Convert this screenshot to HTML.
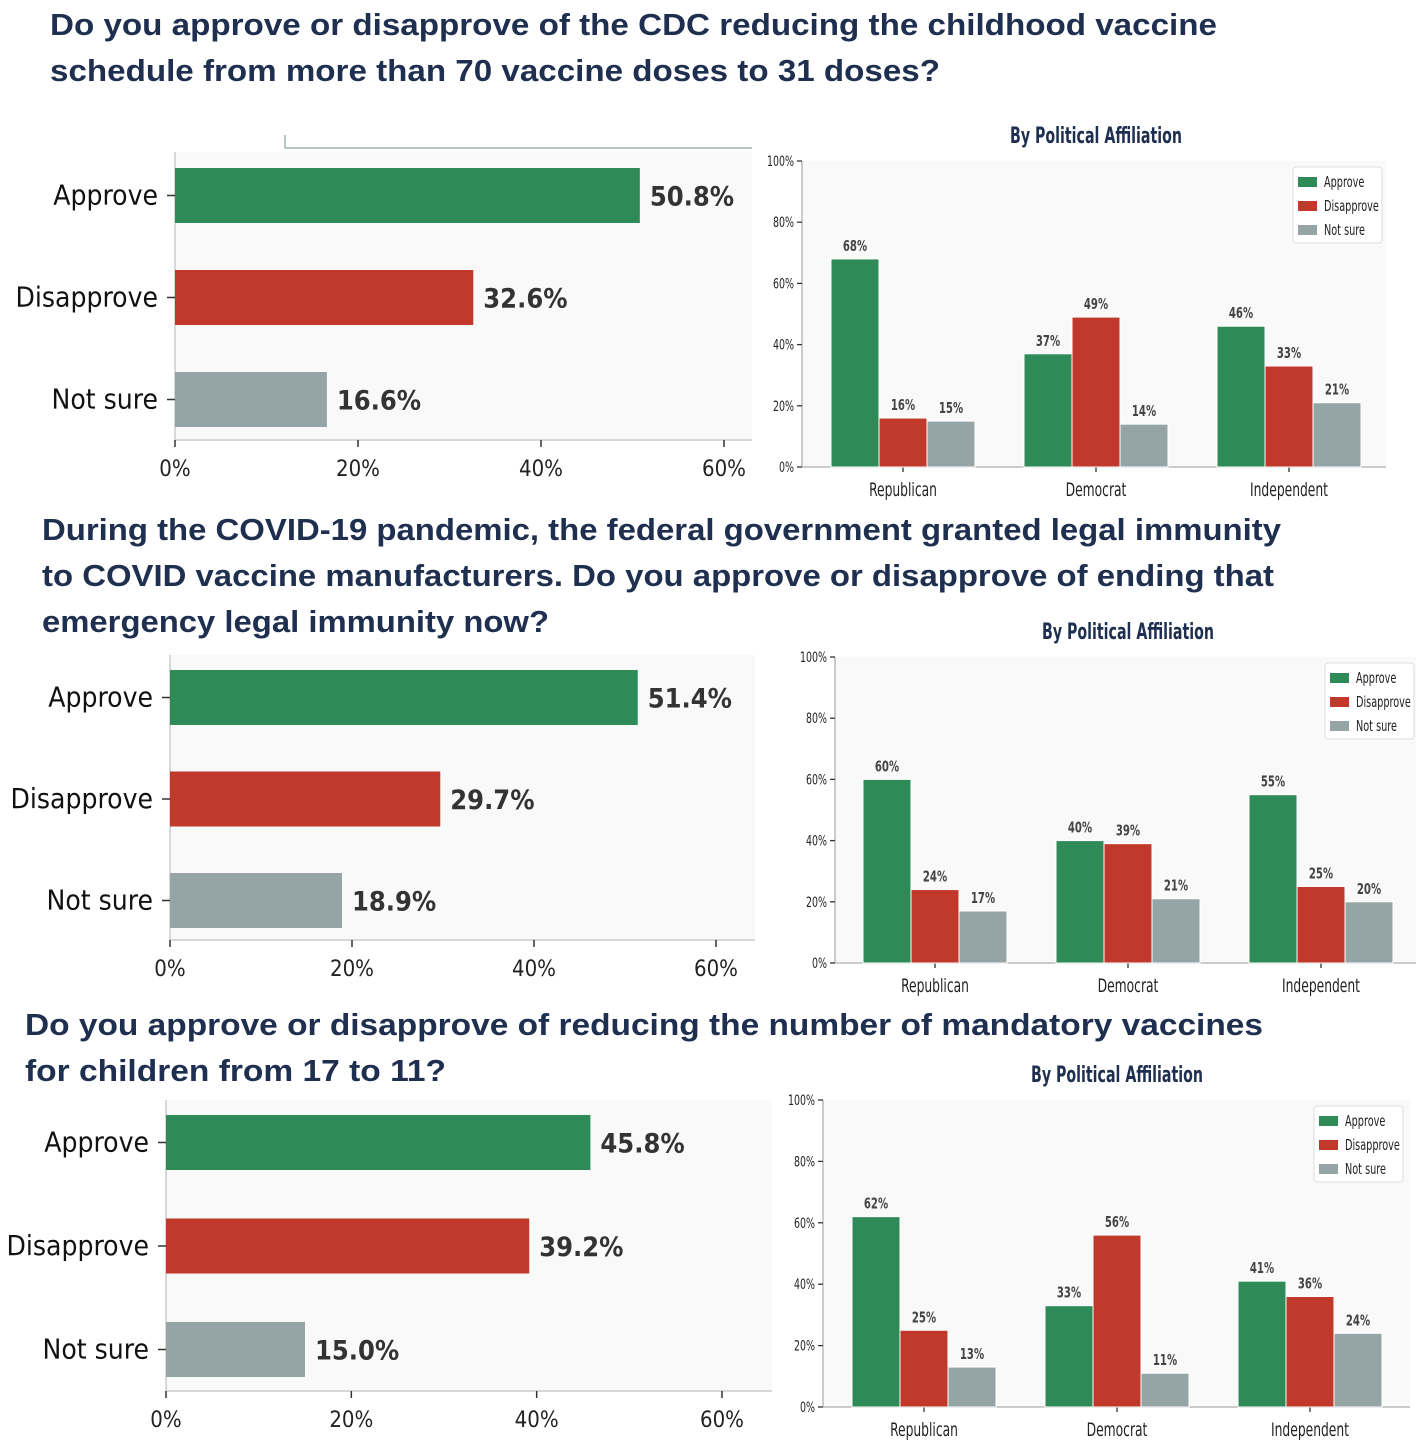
<!DOCTYPE html>
<html><head><meta charset="utf-8">
<style>
html,body{margin:0;padding:0;background:#fff;}
svg{display:block;}
.t{font-family:"Liberation Sans",sans-serif;font-weight:bold;font-size:31px;fill:#1e2f4f;}
.c{font-family:"DejaVu Sans Condensed","DejaVu Sans",sans-serif;}
</style></head>
<body>
<svg id="page" width="1416" height="1446" viewBox="0 0 1416 1446">
<text class="t" x="50" y="35" textLength="1167" lengthAdjust="spacingAndGlyphs">Do you approve or disapprove of the CDC reducing the childhood vaccine</text>
<text class="t" x="50" y="81" textLength="890" lengthAdjust="spacingAndGlyphs">schedule from more than 70 vaccine doses to 31 doses?</text>
<text class="t" x="42" y="540" textLength="1239" lengthAdjust="spacingAndGlyphs">During the COVID-19 pandemic, the federal government granted legal immunity</text>
<text class="t" x="42" y="586" textLength="1232" lengthAdjust="spacingAndGlyphs">to COVID vaccine manufacturers. Do you approve or disapprove of ending that</text>
<text class="t" x="42" y="632" textLength="507" lengthAdjust="spacingAndGlyphs">emergency legal immunity now?</text>
<text class="t" x="25" y="1035" textLength="1238" lengthAdjust="spacingAndGlyphs">Do you approve or disapprove of reducing the number of mandatory vaccines</text>
<text class="t" x="25" y="1081" textLength="421" lengthAdjust="spacingAndGlyphs">for children from 17 to 11?</text>
<path d="M285 135 V148 H752" fill="none" stroke="#9fb5ad" stroke-width="1.5"/>
</svg>
<script>
const categories = ["Approve", "Disapprove", "Not sure"];
const parties = ["Republican", "Democrat", "Independent"];
const xTicks = [0, 20, 40, 60];
const yTicks = [0, 20, 40, 60, 80, 100];
const q1Overall = [50.8, 32.6, 16.6];
const q1Approve = [68, 37, 46];
const q1Disapprove = [16, 49, 33];
const q1NotSure = [15, 14, 21];
const q2Overall = [51.4, 29.7, 18.9];
const q2Approve = [60, 40, 55];
const q2Disapprove = [24, 39, 25];
const q2NotSure = [17, 21, 20];
const q3Overall = [45.8, 39.2, 15.0];
const q3Approve = [62, 33, 41];
const q3Disapprove = [25, 56, 36];
const q3NotSure = [13, 11, 24];

const colors = ["#2e8b57", "#c0392b", "#95a5a6"];
const NS = "http://www.w3.org/2000/svg";
const svg = document.getElementById("page");
function mk(tag, attrs, parent, txt) {
  const e = document.createElementNS(NS, tag);
  for (const k in attrs) e.setAttribute(k, attrs[k]);
  if (txt !== undefined) e.textContent = txt;
  (parent || svg).appendChild(e);
  return e;
}
function ct(x, y, sx, attrs, parent, txt) {
  const a = Object.assign({x: 0, y: 0, transform: "translate(" + x + "," + y + ") scale(" + sx + ",1)", class: "c"}, attrs);
  return mk("text", a, parent, txt);
}

function hChart(id, vals, g) {
  const grp = mk("g", {});
  
  
  const x = v => g.x0 + (g.x60 - g.x0) * v / 60;
  const bg = mk("rect", {x: g.x0, y: g.top, width: g.right - g.x0, height: g.axisY - g.top, fill: "#f9f9f9"}, grp);
  
  
  const ax = mk("line", {x1: g.x0, y1: g.top, x2: g.x0, y2: g.axisY, stroke: "#ccc", "stroke-width": 1.5}, grp);
  
  
  const bx = mk("line", {x1: g.x0, y1: g.axisY, x2: g.right, y2: g.axisY, stroke: "#ccc", "stroke-width": 1.5}, grp);
  
  
  xTicks.forEach(t => {
    const tl = mk("line", {x1: x(t), y1: g.axisY, x2: x(t), y2: g.axisY + 7, stroke: "#333", "stroke-width": 1.5}, grp);
    
    
    const tx = mk("text", {x: x(t), y: g.axisY + 36, "text-anchor": "middle", "font-size": 22, fill: "#222", class: "c"}, grp, t + "%");
    
    
  });
  vals.forEach((v, i) => {
    const y = g.bar0 + i * g.step;
    const r = mk("rect", {x: g.x0, y: y, width: x(v) - g.x0, height: g.bh, fill: colors[i]}, grp);
    
    
    const tl = mk("line", {x1: g.x0 - 8, y1: y + g.bh / 2, x2: g.x0, y2: y + g.bh / 2, stroke: "#333", "stroke-width": 1.5}, grp);
    
    
    const lab = mk("text", {x: g.x0 - 17, y: y + g.bh / 2 + 9, "text-anchor": "end", "font-size": 28, fill: "#111", class: "c"}, grp, categories[i]);
    
    
    const val = mk("text", {x: x(v) + 10, y: y + g.bh / 2 + 10, "font-size": 27, "font-weight": "bold", fill: "#333", class: "c"}, grp, v.toFixed(1) + "%");
    
    
  });
}

function vChart(id, series, g) {
  const grp = mk("g", {});
  
  
  const y = v => g.y0 - (g.y0 - g.y100) * v / 100;
  const bg = mk("rect", {x: g.x0, y: g.y100, width: g.right - g.x0, height: g.y0 - g.y100, fill: "#f9f9f9"}, grp);
  
  
  const tt = mk("text", {x: g.c0 + g.gap, y: g.y100 - 18, "text-anchor": "middle", "font-size": 22, "font-weight": "bold", fill: "#1e2f4f", class: "c", "textLength": 172, lengthAdjust: "spacingAndGlyphs"}, grp, "By Political Affiliation");
  
  
  const ya = mk("line", {x1: g.x0, y1: g.y100, x2: g.x0, y2: g.y0, stroke: "#bbb", "stroke-width": 1.5}, grp);
  
  
  const xa = mk("line", {x1: g.x0, y1: g.y0, x2: g.right, y2: g.y0, stroke: "#bbb", "stroke-width": 1.5}, grp);
  
  
  yTicks.forEach(t => {
    const tl = mk("line", {x1: g.x0 - 5, y1: y(t), x2: g.x0, y2: y(t), stroke: "#333", "stroke-width": 1.3}, grp);
    
    
    const tx = ct(g.x0 - 8, y(t) + 5, 0.75, {"text-anchor": "end", "font-size": 14, fill: "#222"}, grp, t + "%");
    
    
  });
  const bw = 48;
  parties.forEach((p, j) => {
    const cx = g.c0 + j * g.gap;
    const tl = mk("line", {x1: cx, y1: g.y0, x2: cx, y2: g.y0 + 5, stroke: "#333", "stroke-width": 1.3}, grp);
    
    
    const tx = ct(cx, g.y0 + 29, 0.72, {"text-anchor": "middle", "font-size": 19, fill: "#222"}, grp, p);
    
    
    series.forEach((s, k) => {
      const bx = cx - 1.5 * bw + k * bw;
      const r = mk("rect", {x: bx, y: y(s[j]), width: bw, height: y(0) - y(s[j]), fill: colors[k], stroke: "#fff", "stroke-width": 1}, grp);
      
      
      const vl = ct(bx + bw / 2, y(s[j]) - 8, 0.75, {"text-anchor": "middle", "font-size": 15, "font-weight": "bold", fill: "#444"}, grp, s[j] + "%");
      
      
    });
  });
  const lg = mk("g", {}, grp);
  
  
  const lb = mk("rect", {x: g.lx, y: g.ly, width: 89, height: 76, rx: 3, fill: "#fff", stroke: "#ddd"}, lg);
  
  
  categories.forEach((c, k) => {
    const sw = mk("rect", {x: g.lx + 5, y: g.ly + 10 + k * 24, width: 19, height: 10, fill: colors[k]}, lg);
    
    
    const lt = ct(g.lx + 31, g.ly + 20 + k * 24, 0.72, {"font-size": 15, fill: "#222"}, lg, c);
    
    
  });
}

hChart("q1", q1Overall, {x0: 175, x60: 724, right: 752, top: 152, axisY: 440, bar0: 168, step: 102, bh: 55});
vChart("q1", [q1Approve, q1Disapprove, q1NotSure], {x0: 802, right: 1386, y0: 467, y100: 161, c0: 903, gap: 193, lx: 1293, ly: 167});
hChart("q2", q2Overall, {x0: 170, x60: 716, right: 755, top: 655, axisY: 940, bar0: 670, step: 101.5, bh: 55});
vChart("q2", [q2Approve, q2Disapprove, q2NotSure], {x0: 835, right: 1416, y0: 963, y100: 657, c0: 935, gap: 193, lx: 1325, ly: 663});
hChart("q3", q3Overall, {x0: 166, x60: 722, right: 772, top: 1100, axisY: 1391, bar0: 1115, step: 103.5, bh: 55});
vChart("q3", [q3Approve, q3Disapprove, q3NotSure], {x0: 823, right: 1410, y0: 1407, y100: 1100, c0: 924, gap: 193, lx: 1314, ly: 1106});
</script>
</body></html>
